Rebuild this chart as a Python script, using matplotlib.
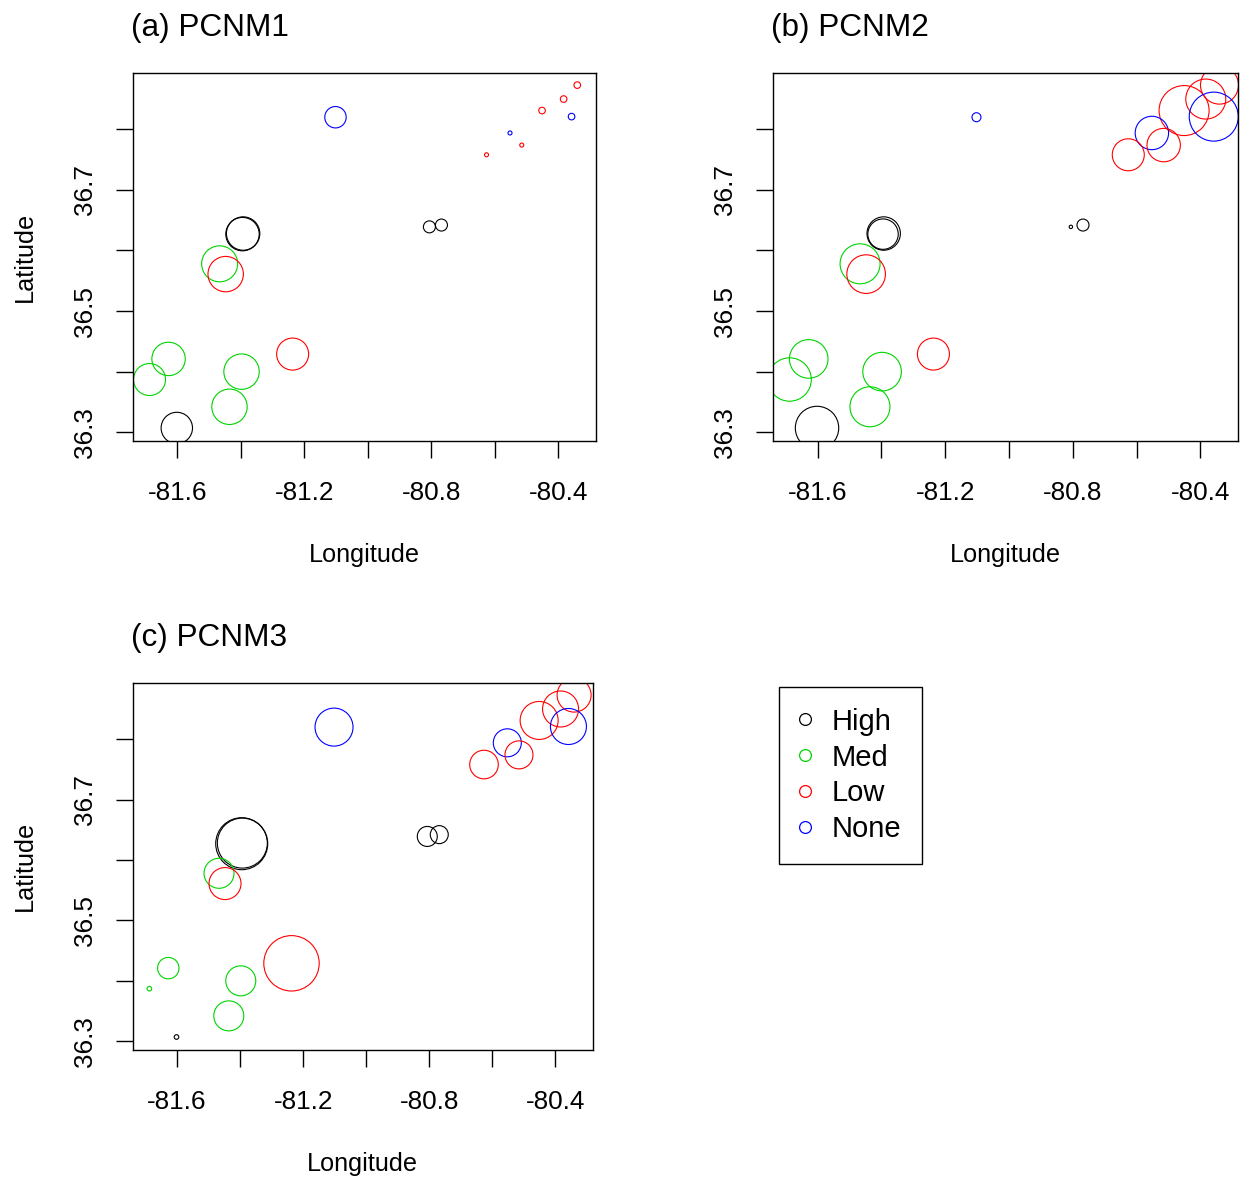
import matplotlib
matplotlib.use("Agg")
import matplotlib.pyplot as plt
from matplotlib.lines import Line2D
import numpy as np

# ---------------- data ----------------
lon = [-81.102, -80.340, -80.383, -80.451, -80.358, -80.552, -80.515, -80.626,
       -80.806, -80.768, -81.395, -81.393, -81.467, -81.448, -81.237, -81.628,
       -81.688, -81.398, -81.436, -81.602]
lat = [36.820, 36.873, 36.850, 36.831, 36.821, 36.794, 36.774, 36.758,
       36.639, 36.642, 36.627, 36.628, 36.578, 36.561, 36.429, 36.421,
       36.387, 36.400, 36.342, 36.307]
group = ['None', 'Low', 'Low', 'Low', 'None', 'None', 'Low', 'Low',
         'High', 'High', 'High', 'High', 'Med', 'Low', 'Low', 'Med',
         'Med', 'Med', 'Med', 'High']

# |PCNM| magnitudes (bubble radius, arbitrary units)
pcnm1 = [10.7, 3.3, 3.3, 3.3, 3.3, 2.0, 2.0, 2.0, 6.0, 6.0, 16.7, 16.7,
         18.0, 17.7, 16.0, 16.7, 16.0, 17.7, 17.7, 15.7]
pcnm2 = [4.5, 19.0, 20.0, 25.0, 24.5, 16.7, 16.7, 16.0, 1.7, 6.0, 15.2, 16.7,
         20.0, 19.3, 16.0, 19.3, 21.7, 19.3, 20.0, 21.7]
pcnm3 = [19.0, 17.0, 18.0, 19.0, 18.0, 14.0, 14.0, 14.3, 10.0, 9.0, 26.0, 25.0,
         15.0, 16.0, 27.7, 10.7, 2.3, 15.0, 15.0, 2.3]

panel_titles = ['(a) PCNM1', '(b) PCNM2', '(c) PCNM3']
legend_labels = ['High', 'Med', 'Low', 'None']
group_colors = {'High': 'black', 'Med': '#00D400', 'Low': '#FF0000', 'None': '#0000FF'}

xticks = [-81.6, -81.4, -81.2, -81.0, -80.8, -80.6, -80.4]
xticklabels = ['-81.6', '', '-81.2', '', '-80.8', '', '-80.4']
yticks = [36.3, 36.4, 36.5, 36.6, 36.7, 36.8]
yticklabels = ['36.3', '', '36.5', '', '36.7', '']

# ---------------- layout ----------------
W, H, DPI = 1241, 1177, 100
fig = plt.figure(figsize=(W / DPI, H / DPI), dpi=DPI)
plt.rcParams['font.family'] = ['Liberation Sans', 'DejaVu Sans']


def rect(l, r, t, b):
    return [l / W, 1 - b / H, (r - l) / W, (b - t) / H]


boxes = [(132.7, 596.0, 72.7, 441.0),
         (772.7, 1238.3, 72.7, 441.0),
         (132.7, 592.7, 682.7, 1050.0)]
show_ylabel = [True, False, True]
sizes = [pcnm1, pcnm2, pcnm3]

colors = [group_colors[g] for g in group]
px2pt = 72.0 / DPI

for i, (box, sz) in enumerate(zip(boxes, sizes)):
    ax = fig.add_axes(rect(*box))
    s = [(2 * r * px2pt) ** 2 for r in sz]
    ax.scatter(lon, lat, s=s, facecolors='none', edgecolors=colors, linewidths=0.8)
    ax.set_xlim(-81.741, -80.281)
    ax.set_ylim(36.2855, 36.8935)
    ax.set_xticks(xticks)
    ax.set_xticklabels(xticklabels)
    ax.set_yticks(yticks)
    ax.set_yticklabels(yticklabels, rotation=90, va='center')
    ax.tick_params(direction='out', length=12, width=1.0, labelsize=18.8,
                   colors='black')
    ax.tick_params(axis='x', pad=17)
    ax.tick_params(axis='y', pad=14)
    for sp in ax.spines.values():
        sp.set_linewidth(1.0)
    ax.set_xlabel('Longitude', fontsize=18.2, labelpad=27)
    if show_ylabel[i]:
        ax.set_ylabel('Latitude', fontsize=18.2, labelpad=26)
    l, r, t, b = box
    fig.text((l - 1.5) / W, 1 - (t - 45) / H, panel_titles[i], fontsize=22.7,
             ha='left', va='center')

handles = [Line2D([], [], marker='o', ls='', mfc='none', mec=group_colors[g],
                  ms=8.5, mew=0.9) for g in legend_labels]
fig.legend(handles, legend_labels, loc='upper left',
           bbox_to_anchor=(779.3 / W, 1 - 686.7 / H), borderaxespad=0,
           fontsize=21, frameon=True, fancybox=False, edgecolor='black',
           framealpha=1, borderpad=0.72, handlelength=0.34, handletextpad=0.72,
           labelspacing=0.27).get_frame().set_linewidth(1.0)

fig.savefig('out.png', dpi=DPI)
